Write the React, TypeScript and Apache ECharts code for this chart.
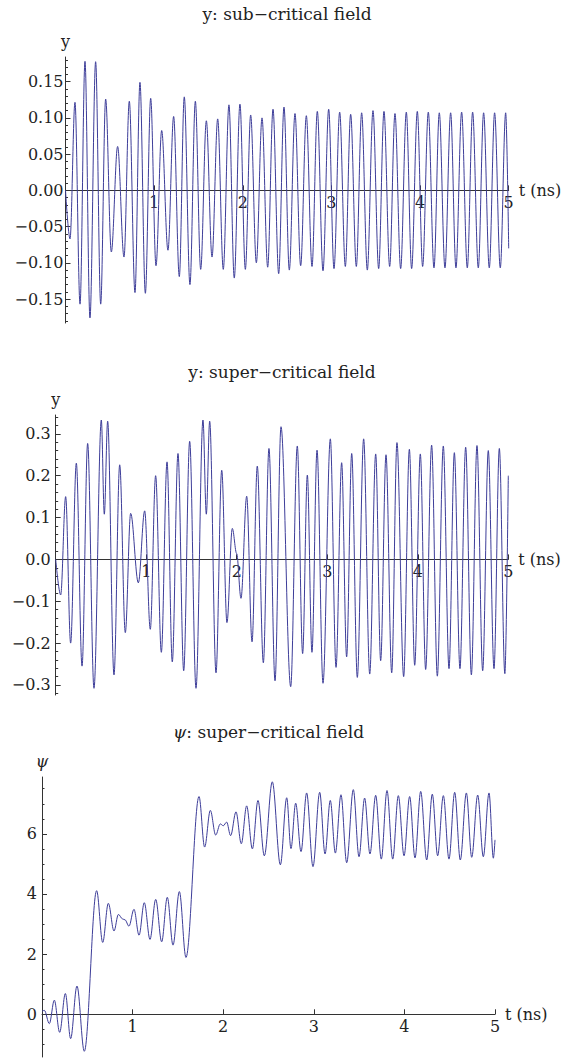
import React, { useEffect, useRef } from "react";
import * as echarts from "echarts";

// ---- data (t in ns, value) ----
const subCritical: [number, number][] = [
  [0, 0], [0.051, -0.067], [0.107, 0.1215], [0.164, -0.157], [0.22, 0.178], [0.276, -0.176],
  [0.34, 0.1775], [0.397, -0.157], [0.453, 0.126], [0.517, -0.085], [0.588, 0.0606], [0.66, -0.092],
  [0.72, 0.123], [0.784, -0.141], [0.84, 0.149], [0.901, -0.142], [0.961, 0.127], [1.021, -0.104],
  [1.085, 0.0826], [1.156, -0.0826], [1.22, 0.102], [1.284, -0.119], [1.34, 0.129], [1.404, -0.13],
  [1.465, 0.123], [1.525, -0.109], [1.589, 0.096], [1.653, -0.092], [1.717, 0.0986], [1.78, -0.109],
  [1.844, 0.118], [1.904, -0.121], [1.968, 0.119], [2.029, -0.109], [2.089, 0.104], [2.153, -0.1],
  [2.217, 0.1], [2.281, -0.106], [2.341, 0.112], [2.405, -0.115], [2.465, 0.115], [2.525, -0.11],
  [2.589, 0.106], [2.653, -0.104], [2.717, 0.103], [2.781, -0.105], [2.841, 0.109], [2.905, -0.111],
  [2.969, 0.112], [3.029, -0.108], [3.093, 0.108], [3.157, -0.105], [3.217, 0.105], [3.281, -0.105],
  [3.341, 0.107], [3.405, -0.11], [3.469, 0.11], [3.533, -0.108], [3.593, 0.109], [3.657, -0.105],
  [3.717, 0.106], [3.781, -0.108], [3.845, 0.108], [3.905, -0.108], [3.969, 0.109], [4.029, -0.105],
  [4.093, 0.108], [4.157, -0.107], [4.217, 0.107], [4.281, -0.107], [4.345, 0.107], [4.405, -0.107],
  [4.469, 0.108], [4.533, -0.107], [4.593, 0.108], [4.657, -0.107], [4.717, 0.107], [4.781, -0.107],
  [4.841, 0.107], [4.905, -0.107], [4.966, 0.107], [5.0, -0.08],
];

const superCritical: [number, number][] = [
  [0, 0], [0.055, -0.085], [0.11, 0.15], [0.165, -0.2], [0.228, 0.23], [0.291, -0.255],
  [0.353, 0.277], [0.423, -0.308], [0.504, 0.333], [0.537, 0.108], [0.574, 0.33], [0.644, -0.276],
  [0.707, 0.226], [0.769, -0.175], [0.828, 0.11], [0.913, -0.056], [0.983, 0.116], [1.045, -0.167],
  [1.104, 0.2], [1.167, -0.222], [1.23, 0.233], [1.288, -0.245], [1.351, 0.253], [1.414, -0.266],
  [1.48, 0.282], [1.55, -0.308], [1.627, 0.333], [1.664, 0.108], [1.701, 0.33], [1.771, -0.271],
  [1.834, 0.213], [1.892, -0.151], [1.951, 0.074], [1.999, 0.014], [2.047, -0.093], [2.11, 0.151],
  [2.169, -0.197], [2.227, 0.223], [2.294, -0.247], [2.356, 0.265], [2.423, -0.29], [2.489, 0.317],
  [2.596, -0.304], [2.669, 0.271], [2.728, -0.225], [2.78, 0.2016], [2.831, -0.222], [2.887, 0.261],
  [2.953, -0.296], [3.034, 0.288], [3.097, -0.258], [3.159, 0.231], [3.214, -0.233], [3.27, 0.253],
  [3.332, -0.282], [3.402, 0.288], [3.469, -0.274], [3.535, 0.252], [3.59, -0.242], [3.649, 0.25],
  [3.712, -0.271], [3.77, 0.279], [3.844, -0.28], [3.907, 0.263], [3.966, -0.253], [4.028, 0.252],
  [4.087, -0.263], [4.153, 0.273], [4.216, -0.279], [4.282, 0.271], [4.345, -0.261], [4.404, 0.255],
  [4.466, -0.261], [4.529, 0.268], [4.592, -0.276], [4.654, 0.272], [4.717, -0.266], [4.779, 0.26],
  [4.842, -0.261], [4.901, 0.265], [4.962, -0.273], [5.0, 0.2],
];

const psiSuper: [number, number][] = [
  [0, 0.1], [0.026, 0.13], [0.081, -0.31], [0.136, 0.47], [0.195, -0.6], [0.258, 0.69],
  [0.316, -0.81], [0.386, 0.94], [0.467, -1.23], [0.603, 4.11], [0.67, 2.39], [0.732, 3.69],
  [0.795, 2.77], [0.843, 3.32], [0.89, 3.17], [0.916, 3.14], [0.96, 2.93], [1.015, 3.49],
  [1.071, 2.63], [1.129, 3.71], [1.192, 2.49], [1.255, 3.82], [1.321, 2.41], [1.383, 3.89],
  [1.446, 2.3], [1.516, 4.08], [1.589, 1.89], [1.733, 7.24], [1.795, 5.56], [1.858, 6.78],
  [1.917, 5.96], [1.968, 6.33], [2.001, 6.27], [2.038, 6.39], [2.082, 5.94], [2.141, 6.73],
  [2.2, 5.67], [2.259, 6.93], [2.322, 5.5], [2.384, 7.11], [2.454, 5.27], [2.542, 7.73],
  [2.631, 4.97], [2.701, 7.2], [2.748, 5.51], [2.8, 7.02], [2.859, 5.41], [2.921, 7.36],
  [2.991, 4.91], [3.065, 7.38], [3.124, 5.33], [3.182, 7.11], [3.238, 5.36], [3.3, 7.3],
  [3.363, 5.04], [3.436, 7.47], [3.499, 5.24], [3.561, 7.19], [3.62, 5.33], [3.683, 7.28],
  [3.745, 5.16], [3.808, 7.44], [3.871, 5.16], [3.933, 7.27], [3.996, 5.27], [4.058, 7.24],
  [4.117, 5.2], [4.18, 7.41], [4.246, 5.13], [4.308, 7.32], [4.367, 5.27], [4.43, 7.27],
  [4.492, 5.16], [4.555, 7.38], [4.617, 5.13], [4.684, 7.36], [4.743, 5.22], [4.809, 7.29],
  [4.871, 5.24], [4.934, 7.36], [4.982, 5.19], [5.0, 5.8],
];

// ---- ticks & labels ----
const tTicks = [1, 2, 3, 4, 5];
const subTicks = [-0.15, -0.1, -0.05, 0, 0.05, 0.1, 0.15];
const superTicks = [-0.3, -0.2, -0.1, 0, 0.1, 0.2, 0.3];
const psiTicks = [0, 2, 4, 6];
const titles = ["y: sub\u2212critical field", "y: super\u2212critical field", "{i|\u03c8}: super\u2212critical field"];
const yNames = ["y", "y", "\u03c8"];

function minorTicks(lo: number, hi: number, step: number, major: number) {
  const out: number[] = [];
  const n0 = Math.ceil(lo / step - 1e-9);
  const n1 = Math.floor(hi / step + 1e-9);
  for (let n = n0; n <= n1; n++) {
    const v = Math.round(n * step * 10000) / 10000;
    const r = Math.abs(v / major - Math.round(v / major));
    if (r > 1e-6) out.push(v);
  }
  return out;
}

const FONT = "'DejaVu Serif', serif";
const TXT = "#222";
const AX = "#333";
const LINE = "#3d3d99";

export default function App() {
  const ref = useRef<HTMLDivElement>(null);
  useEffect(() => {
    document.body.style.margin = "0";
    const chart = echarts.init(ref.current!, null, { renderer: "svg", width: 572, height: 1058 });

    const grids = [
      { left: 65.5, top: 57, width: 443.2, height: 266 },
      { left: 55.7, top: 415, width: 452.6, height: 280 },
      { left: 42, top: 777, width: 453, height: 280 },
    ];
    const yRanges = [[-0.183, 0.184], [-0.324, 0.345], [-1.42, 7.89]];
    const majors = [subTicks, superTicks, psiTicks];
    const minors = [
      minorTicks(-0.183, 0.184, 0.01, 0.05),
      minorTicks(-0.324, 0.345, 0.02, 0.1),
      minorTicks(-1.42, 7.89, 0.5, 2),
    ];
    const decimals = [2, 1, 0];
    const labelMargins = [2, 5, 5];
    const titleCenters = [287, 282, 268.5];
    const titleTops = [5, 363.5, 723.5];
    const datasets = [subCritical, superCritical, psiSuper];

    const fmt = (d: number) => (v: number) => {
      const s = Math.abs(v) < 1e-9 ? (0).toFixed(d) : v.toFixed(d);
      return s.replace("-", "\u2212");
    };

    const yAxes: any[] = [];
    const xAxes: any[] = [];
    const series: any[] = [];
    const title: any[] = [];
    for (let i = 0; i < 3; i++) {
      const [lo, hi] = yRanges[i];
      const g = grids[i];
      // distance from grid bottom up to the y = 0 line, so the t axis sits on zero
      const zeroOffset = -(g.height * (0 - lo)) / (hi - lo);
      yAxes.push({
        type: "value", gridIndex: i, position: "left",
        min: lo, max: hi,
        axisLine: { show: true, onZero: false, lineStyle: { color: AX, width: 1 } },
        axisTick: { show: true, inside: true, length: 5, customValues: majors[i], lineStyle: { color: AX, width: 1 } },
        axisLabel: {
          show: true, customValues: majors[i], formatter: fmt(decimals[i]), margin: labelMargins[i],
          fontFamily: FONT, fontSize: 16, color: TXT,
        },
        splitLine: { show: false },
        name: yNames[i], nameLocation: "end", nameGap: 8,
        nameTextStyle: { fontFamily: FONT, fontSize: 16, color: TXT, fontStyle: i === 2 ? "italic" : "normal", align: "center" },
      });
      yAxes.push({
        type: "value", gridIndex: i, position: "left",
        min: lo, max: hi,
        axisLine: { show: false, onZero: false },
        axisTick: { show: true, inside: true, length: 2.5, customValues: minors[i], lineStyle: { color: AX, width: 1 } },
        axisLabel: { show: false },
        splitLine: { show: false },
      });
      xAxes.push({
        type: "value", gridIndex: i, position: "bottom", min: 0, max: 5,
        offset: zeroOffset,
        axisLine: { show: true, onZero: false, lineStyle: { color: AX, width: 1 } },
        axisTick: { show: true, inside: true, length: 5, customValues: tTicks, lineStyle: { color: AX, width: 1 } },
        axisLabel: { show: true, customValues: tTicks, margin: 4, fontFamily: FONT, fontSize: 16, color: TXT },
        splitLine: { show: false },
        name: "t (ns)", nameLocation: "end", nameGap: 10,
        nameTextStyle: { fontFamily: FONT, fontSize: 16, color: TXT, verticalAlign: "middle" },
      });
      series.push({
        type: "line", xAxisIndex: i, yAxisIndex: 2 * i,
        data: datasets[i],
        showSymbol: false, symbol: "none",
        smooth: 0.35, smoothMonotone: "x",
        lineStyle: { color: LINE, width: 1 },
        silent: true, clip: false,
      });
      title.push({
        text: titles[i], left: titleCenters[i], top: titleTops[i], textAlign: "center", padding: 0,
        textStyle: {
          fontFamily: FONT, fontSize: 17, fontWeight: "normal", color: TXT,
          rich: { i: { fontFamily: FONT, fontSize: 17, fontStyle: "italic", color: TXT } },
        },
      });
    }

    chart.setOption({
      animation: false,
      backgroundColor: "#fff",
      title,
      grid: grids.map((g) => ({ ...g, containLabel: false, outerBoundsMode: "none" })),
      xAxis: xAxes,
      yAxis: yAxes,
      series,
    });
    return () => chart.dispose();
  }, []);
  return <div ref={ref} style={{ width: 572, height: 1058 }} />;
}
